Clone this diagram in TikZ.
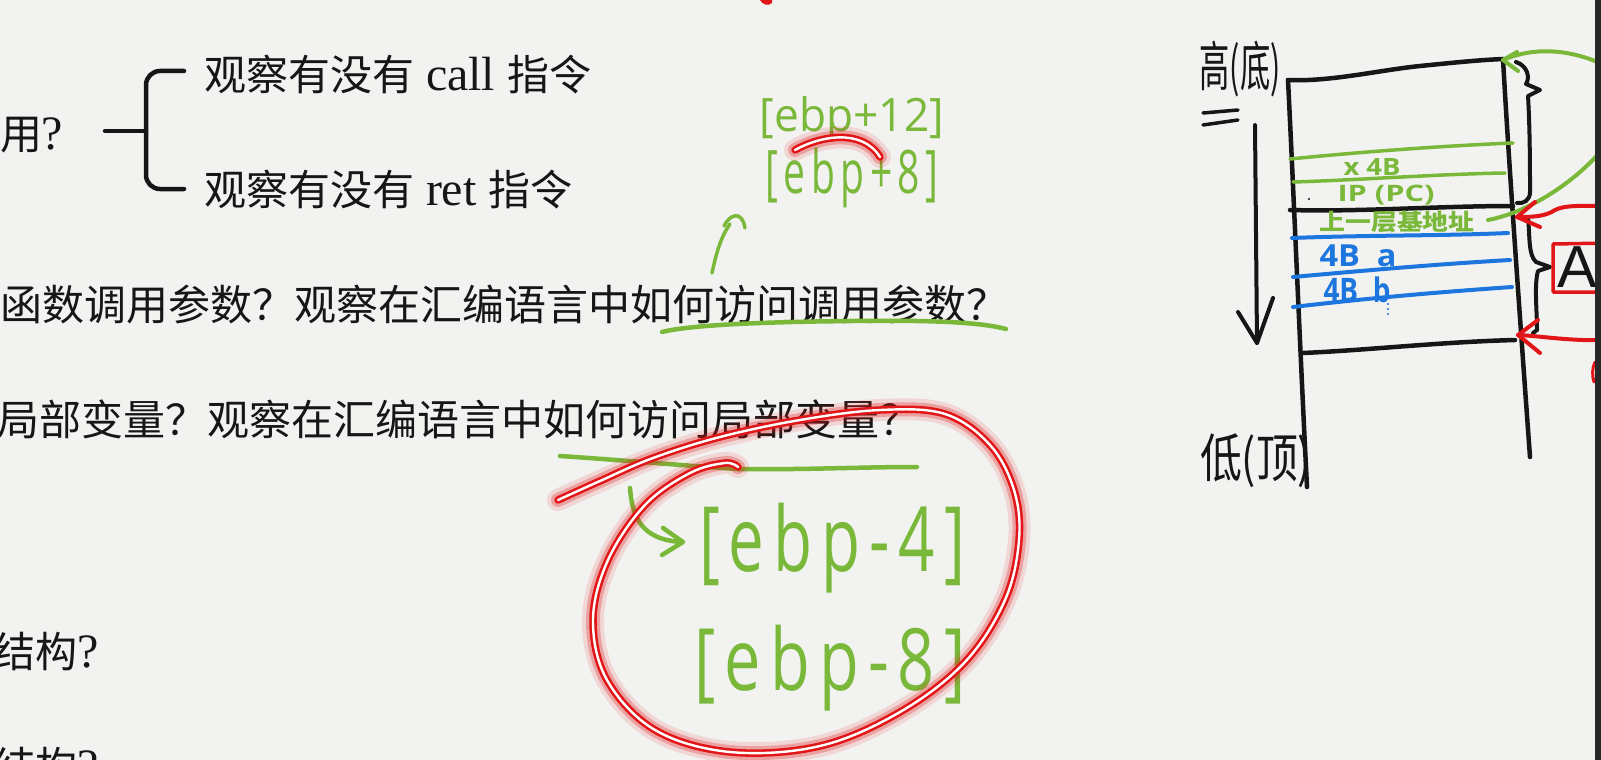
\documentclass[tikz,border=0pt]{standalone}
\usepackage{fontspec}
\usepackage{graphicx}
\setmainfont{Liberation Serif}
\setsansfont{Liberation Sans}
\newfontfamily\cjk{Noto Sans CJK SC}
\newfontfamily\hand{Open Sans}
\newfontfamily\handsp{Open Sans}[LetterSpace=14]
\definecolor{bg}{RGB}{242,242,241}
\definecolor{pengreen}{RGB}{122,184,58}
\definecolor{penblue}{RGB}{28,118,222}
\definecolor{penred}{RGB}{226,22,24}
\definecolor{ink}{RGB}{22,22,22}
\definecolor{darkbar}{RGB}{40,40,40}
\newcommand{\latin}{\fontspec{Liberation Serif}\fontsize{48}{56}\selectfont}
\tikzset{
  txt/.style={anchor=base west, inner sep=0pt, outer sep=0pt, text=ink, font=\cjk\fontsize{42}{50}\selectfont},
  hw/.style={inner sep=0pt, outer sep=0pt},
  gpen/.style={draw=pengreen, line width=4.5pt, line cap=round, line join=round},
  thinpen/.style={draw=pengreen, line width=3.5pt, line cap=round, line join=round},
  bpen/.style={draw=penblue, line width=4pt, line cap=round},
  kpen/.style={draw=ink, line width=5pt, line cap=round, line join=round},
  rpen/.style={draw=penred, line width=4pt, line cap=round, line join=round},
  glow/.style={preaction={draw=penred, line width=22pt, opacity=0.12, line cap=round, line join=round},
               preaction={draw=penred, line width=14pt, opacity=0.28, line cap=round, line join=round},
               preaction={draw=penred, line width=7.5pt, line cap=round, line join=round},
               draw=white, line width=2.4pt, line cap=round, line join=round},
}
\begin{document}
\begin{tikzpicture}[x=1pt,y=-1pt]
\useasboundingbox (0,0) rectangle (1601,760);
\fill[bg] (0,0) rectangle (1601,760);
\begin{scope}
\clip (0,0) rectangle (1595,760);
% ---------- printed text ----------
\node[txt] (q1) at (0,149) {用{\latin ?}};
\node[txt] (call) at (204,90) {观察有没有{\latin\ call }指令};
\node[txt] (ret) at (204,205) {观察有没有{\latin\ ret }指令};
\node[txt] (l2) at (1,320) {函数调用参数？观察在汇编语言中如何访问调用参数？};
\node[txt] (l3) at (-2,435) {局部变量？观察在汇编语言中如何访问局部变量？};
\node[txt] (l4) at (-6,667) {结构{\latin ?}};
\node[txt] (l5) at (-6,782) {结构{\latin ?}};
% brace
\draw[kpen, line width=4.5pt] (105,131) -- (146,131);
\draw[kpen, line width=4.5pt, rounded corners=14pt] (184,71) -- (146,71) -- (146,189) -- (184,189);
% ---------- green annotations ----------
\node[hw, text=pengreen] (e12) at (852,120) {\resizebox*{184pt}{46pt}{\hand [ebp+12]}};
\node[hw, text=pengreen] (e8) at (852,178) {\resizebox*{173pt}{60pt}{\handsp [ebp+8]}};
\node[hw, text=pengreen] (em4) at (832,548) {\resizebox*{266pt}{90pt}{\handsp [ebp-4]}};
\node[hw, text=pengreen] (em8) at (830,668) {\resizebox*{271pt}{86pt}{\handsp [ebp-8]}};
% underline of line 2
\draw[gpen] (662,332) .. controls (690,325) and (760,322) .. (850,321) .. controls (930,320) and (980,322) .. (1006,329);
% small arrow towards [ebp+8]
\draw[thinpen] (712,273) .. controls (716,255) and (720,238) .. (730,224);
\draw[thinpen] (724,226) .. controls (730,214) and (742,210) .. (745,228);
% underline of line 3
\draw[gpen] (560,456) .. controls (620,460) and (690,466) .. (737,469) .. controls (800,470) and (860,467) .. (917,467);
% arrow to [ebp-4]
\draw[gpen] (630,488) .. controls (632,515) and (640,540) .. (682,542);
\draw[gpen] (663,528) -- (683,542) -- (662,555);
% ---------- red highlights ----------
\draw[glow] (795,150) .. controls (820,136) and (862,128) .. (880,157);
\draw[glow] plot[smooth, tension=0.6] coordinates {(558,500) (600,481) (653,458) (720,437) (800,420) (880,410) (945,414) (990,445) (1014,490) (1019,540) (1005,600) (965,662) (900,712) (820,746) (730,752) (655,730) (607,680) (593,620) (608,560) (645,505) (690,473) (725,463) (738,467)};
\fill[penred] (760,0) .. controls (762,4) and (768,7) .. (772,3) -- (772,0) -- cycle;
% ---------- stack diagram ----------
\node[hw, text=ink] (hi) at (1240,69) {\resizebox*{81pt}{56pt}{\cjk 高(底)}};
\draw[kpen, line width=3.5pt] (1203,113) -- (1238,110);
\draw[kpen, line width=3.5pt] (1203,125) -- (1238,120);
\node[hw, text=ink] (lo) at (1256,461) {\resizebox*{112pt}{54pt}{\cjk 低(顶)}};
% direction arrow
\coordinate (dtop) at (1255,125);
\coordinate (dtip) at (1257,343);
\draw[kpen, line width=4pt] (dtop) -- (dtip);
\draw[kpen, line width=4pt] (1238,312) -- (dtip) -- (1273,298);
% walls and top
\draw[kpen, line width=4.5pt] (1288,80) .. controls (1330,82) and (1380,70) .. (1420,66) .. controls (1460,62) and (1480,60) .. (1503,59);
\draw[kpen, line width=4.5pt] (1288,80) .. controls (1294,200) and (1300,350) .. (1307,487);
\draw[kpen, line width=4.5pt] (1503,59) .. controls (1508,150) and (1520,320) .. (1530,457);
% green rows
\draw[gpen, line width=3.5pt] (1290,159) .. controls (1360,152) and (1440,146) .. (1513,143);
\draw[gpen, line width=3.5pt] (1293,182) .. controls (1360,180) and (1440,174) .. (1505,173);
\node[hw, text=pengreen] (x4b) at (1372,167) {\resizebox*{57pt}{17pt}{\hand\bfseries x 4B}};
\node[hw, text=pengreen] (ip) at (1386,195) {\resizebox*{97pt}{20pt}{\hand\bfseries IP (PC)}};
\fill[ink] (1309,199) circle (1.2);
\draw[kpen, line width=4.5pt] (1290,210) .. controls (1360,212) and (1440,206) .. (1513,206);
\node[hw, text=pengreen] (prev) at (1397,222) {\resizebox*{155pt}{22pt}{\cjk\bfseries 上一层基地址}};
% blue rows
\draw[bpen] (1292,238) .. controls (1370,235) and (1440,236) .. (1508,233);
\draw[bpen] (1293,277) .. controls (1370,270) and (1440,264) .. (1510,260);
\draw[bpen] (1293,307) .. controls (1370,298) and (1440,292) .. (1512,287);
\node[hw, text=penblue] (ra) at (1358,256) {\resizebox*{77pt}{22pt}{\hand\bfseries 4B\ \ a}};
\node[hw, text=penblue] (rb) at (1357,290) {\resizebox*{67pt}{26pt}{\hand\bfseries 4B\ \ b}};
\foreach \yy in {304,309,314} \fill[penblue] (1388,\yy) circle (1.1);
\draw[kpen, line width=4.5pt] (1303,353) .. controls (1370,350) and (1440,342) .. (1515,340);
% braces on the right
\draw[kpen, line width=4pt] (1516,62) .. controls (1528,66) and (1530,78) .. (1526,84) -- (1540,90) -- (1528,96) .. controls (1530,130) and (1530,170) .. (1530,192) .. controls (1530,200) and (1524,204) .. (1517,203);
\draw[kpen, line width=4pt] (1528,218) .. controls (1530,235) and (1528,255) .. (1536,262) -- (1550,267) -- (1538,271) .. controls (1534,285) and (1537,310) .. (1537,330) -- (1533,333);
% green curved arrow to top corner
\draw[gpen, line width=4pt] (1488,220) .. controls (1530,212) and (1580,180) .. (1610,140);
\draw[gpen, line width=4pt] (1610,68) .. controls (1580,52) and (1540,44) .. (1503,60);
\draw[gpen, line width=4pt] (1517,52) -- (1503,60) -- (1518,71);
% red arrows
\draw[rpen] (1600,206) .. controls (1580,206) and (1565,205) .. (1555,210) .. controls (1545,217) and (1530,217) .. (1517,217);
\draw[rpen] (1535,202) -- (1517,217) -- (1540,227);
\draw[rpen] (1600,340) .. controls (1570,341) and (1540,336) .. (1518,335);
\draw[rpen] (1538,320) -- (1518,335) -- (1540,353);
% red box with AC
\draw[rpen, line width=3.5pt] (1610,243) -- (1553,244) -- (1553,292) -- (1610,292);
\node[hw, anchor=west, text=ink] (ac) at (1557,267) {\resizebox*{!}{42pt}{\sffamily AC}};
\draw[rpen, line width=3pt] (1595,362) .. controls (1592,368) and (1592,376) .. (1594,382);
\end{scope}
\fill[darkbar] (1595,0) rectangle (1601,760);
\end{tikzpicture}
\end{document}
